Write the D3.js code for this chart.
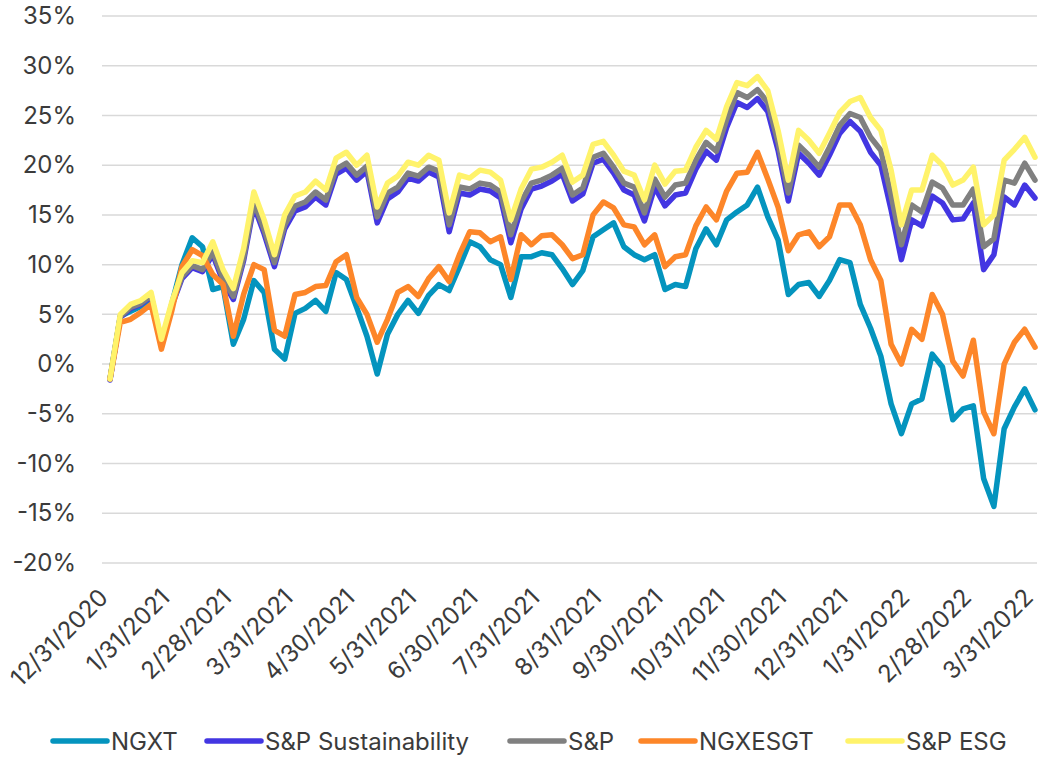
<!DOCTYPE html>
<html>
<head>
<meta charset="utf-8">
<script src="https://cdn.jsdelivr.net/npm/d3@7"></script>
<style>
  html, body { margin: 0; padding: 0; background: #fff; }
  svg { display: block; font-family: Inter, "Noto Sans", sans-serif; }
</style>
</head>
<body>
<svg id="chart"></svg>
<script>
// Month-end labels on the x axis
const dateLabels = ["12/31/2020", "1/31/2021", "2/28/2021", "3/31/2021", "4/30/2021", "5/31/2021",
  "6/30/2021", "7/31/2021", "8/31/2021", "9/30/2021", "10/31/2021", "11/30/2021",
  "12/31/2021", "1/31/2022", "2/28/2022", "3/31/2022"];

const yTicks = [-20, -15, -10, -5, 0, 5, 10, 15, 20, 25, 30, 35];

// Cumulative return (%), evenly spaced samples
const ngxt = [-1.5, 4.8, 5.3, 5.8, 6.4, 2.0, 6.0, 10.0, 12.7, 11.8,
  7.5, 7.8, 2.0, 4.5, 8.4, 7.2, 1.5, 0.5, 5.1, 5.6,
  6.4, 5.3, 9.2, 8.5, 5.7, 2.8, -1.0, 3.0, 5.0, 6.4,
  5.1, 6.9, 8.0, 7.4, 9.8, 12.3, 11.8, 10.5, 10.0, 6.7,
  10.8, 10.8, 11.2, 11.0, 9.6, 8.0, 9.4, 12.8, 13.5, 14.2,
  11.8, 11.0, 10.5, 11.0, 7.5, 8.0, 7.8, 11.6, 13.6, 12.0,
  14.5, 15.3, 16.0, 17.8, 14.8, 12.5, 7.0, 8.0, 8.2, 6.8,
  8.4, 10.5, 10.2, 6.0, 3.6, 0.8, -4.0, -7.0, -4.0, -3.5,
  1.0, -0.3, -5.6, -4.5, -4.2, -11.5, -14.3, -6.5, -4.3, -2.5,
  -4.6];

const spSustainability = [-1.6, 4.7, 5.6, 6.0, 6.8, 2.1, 5.8, 8.6, 9.7, 9.3,
  11.0, 8.3, 6.5, 10.4, 15.9, 13.1, 9.8, 13.6, 15.4, 15.8,
  16.8, 16.0, 19.1, 19.7, 18.5, 19.4, 14.2, 16.6, 17.3, 18.7,
  18.4, 19.3, 18.8, 13.3, 17.2, 17.0, 17.6, 17.4, 16.7, 12.2,
  15.6, 17.6, 17.9, 18.4, 19.1, 16.4, 17.1, 20.2, 20.6, 19.2,
  17.5, 17.0, 14.4, 17.8, 15.9, 17.0, 17.2, 19.6, 21.4, 20.5,
  23.8, 26.3, 25.8, 26.7, 25.4, 21.5, 16.4, 21.2, 20.2, 19.0,
  21.0, 23.2, 24.4, 23.4, 21.3, 20.0, 15.5, 10.5, 14.5, 13.9,
  16.9, 16.2, 14.5, 14.6, 16.2, 9.5, 11.0, 16.8, 16.0, 18.0,
  16.7];

const sp = [-1.5, 4.8, 5.7, 6.1, 6.9, 2.2, 5.9, 8.8, 9.9, 9.5,
  11.3, 8.6, 6.8, 10.7, 16.3, 13.5, 10.2, 14.0, 15.9, 16.3,
  17.3, 16.5, 19.6, 20.2, 19.0, 19.9, 14.8, 17.2, 17.8, 19.2,
  18.9, 19.8, 19.4, 14.0, 17.8, 17.6, 18.2, 18.0, 17.3, 13.0,
  16.3, 18.2, 18.5, 19.0, 19.7, 17.0, 17.7, 20.8, 21.2, 19.8,
  18.2, 17.8, 15.2, 18.6, 16.8, 18.0, 18.2, 20.5, 22.3, 21.4,
  24.6, 27.3, 26.8, 27.6, 26.3, 22.3, 17.2, 22.0, 21.0, 19.8,
  21.8, 24.0, 25.2, 24.8, 22.8, 21.5, 17.0, 12.0, 16.0, 15.3,
  18.3, 17.7, 16.0, 16.0, 17.6, 11.8, 12.6, 18.5, 18.2, 20.2,
  18.5];

const ngxesgt = [-1.5, 4.2, 4.5, 5.2, 6.0, 1.5, 5.3, 9.8, 11.5, 10.9,
  9.0, 8.0, 2.8, 7.0, 10.0, 9.5, 3.4, 2.8, 7.0, 7.2,
  7.8, 7.9, 10.3, 11.0, 6.7, 5.0, 2.2, 4.5, 7.2, 7.8,
  6.8, 8.6, 9.8, 8.3, 11.0, 13.3, 13.2, 12.3, 12.8, 8.5,
  13.0, 12.0, 12.9, 13.0, 12.0, 10.6, 11.0, 15.0, 16.3, 15.7,
  14.0, 13.8, 12.0, 13.0, 9.8, 10.8, 11.0, 13.9, 15.8, 14.5,
  17.4, 19.2, 19.3, 21.3, 18.6, 15.8, 11.4, 13.0, 13.3, 11.8,
  12.8, 16.0, 16.0, 14.0, 10.5, 8.4, 2.0, 0.0, 3.5, 2.5,
  7.0, 5.0, 0.3, -1.2, 2.4, -4.8, -7.0, 0.0, 2.2, 3.5,
  1.7];

const spEsg = [-1.5, 5.0, 6.0, 6.4, 7.2, 2.5, 6.2, 9.2, 10.4, 10.2,
  12.3, 9.5, 7.6, 11.6, 17.3, 14.5, 11.0, 15.0, 16.9, 17.3,
  18.4, 17.5, 20.7, 21.3, 20.0, 21.0, 15.8, 18.2, 18.9, 20.3,
  20.0, 21.0, 20.5, 15.2, 19.0, 18.7, 19.5, 19.3, 18.5, 14.5,
  17.6, 19.6, 19.8, 20.3, 21.0, 18.3, 19.0, 22.1, 22.4, 21.0,
  19.4, 19.0, 16.5, 20.0, 18.1, 19.4, 19.5, 21.8, 23.5, 22.6,
  25.9, 28.3, 28.0, 28.9, 27.5, 23.5, 18.5, 23.5, 22.5, 21.2,
  23.2, 25.3, 26.4, 26.8, 24.8, 23.5, 19.5, 14.0, 17.5, 17.5,
  21.0, 20.0, 18.0, 18.5, 19.8, 14.0, 15.0, 20.5, 21.6, 22.8,
  20.8];

const seriesNames = ["NGXT", "S&P Sustainability", "S&P", "NGXESGT", "S&P ESG"];
const seriesColors = ["#0494be", "#4336e2", "#808080", "#fd8629", "#fff36b"];

const width = 1043;
const height = 759;
const plot = { left: 110, right: 1035, top: 16, bottom: 563 };
const fontSize = "24px";
const textColor = "#3b3b3b";

const svg = d3.select("#chart").attr("width", width).attr("height", height);

const x = d3.scaleLinear()
  .domain([0, ngxt.length - 1])
  .range([plot.left, plot.right]);

const y = d3.scaleLinear()
  .domain([-20, 35])
  .range([plot.bottom, plot.top]);

// gridlines
svg.append("g")
  .selectAll("line")
  .data(yTicks)
  .join("line")
  .attr("x1", 102)
  .attr("x2", 1037)
  .attr("y1", d => y(d))
  .attr("y2", d => y(d))
  .attr("stroke", "#d9d9d9")
  .attr("stroke-width", 1.5);

// y axis labels
const yAxis = svg.append("g")
  .attr("transform", "translate(76,0)")
  .call(d3.axisLeft(y).tickValues(yTicks).tickFormat(d => d + "%").tickSize(0).tickPadding(0));
yAxis.select(".domain").remove();
yAxis.selectAll("text")
  .attr("font-size", fontSize)
  .attr("font-family", "Inter, sans-serif")
  .attr("fill", textColor);

// x axis labels, rotated
const step = (ngxt.length - 1) / (dateLabels.length - 1);
const xAxis = svg.append("g")
  .attr("transform", `translate(0,${plot.bottom})`)
  .call(d3.axisBottom(x)
    .tickValues(dateLabels.map((d, i) => i * step))
    .tickFormat((d, i) => dateLabels[i])
    .tickSize(0));
xAxis.select(".domain").remove();
xAxis.selectAll("text")
  .attr("x", 0)
  .attr("y", 0)
  .attr("dy", 0)
  .attr("transform", "translate(-1,36) rotate(-45)")
  .style("text-anchor", "end")
  .attr("font-size", fontSize)
  .attr("font-family", "Inter, sans-serif")
  .attr("fill", textColor);

// lines, drawn in legend order
const allSeries = [ngxt, spSustainability, sp, ngxesgt, spEsg];
const line = d3.line()
  .x((d, i) => x(i))
  .y(d => y(d));

svg.append("g")
  .selectAll("path")
  .data(allSeries)
  .join("path")
  .attr("d", line)
  .attr("fill", "none")
  .attr("stroke", (d, i) => seriesColors[i])
  .attr("stroke-width", 5.5)
  .attr("stroke-linejoin", "round")
  .attr("stroke-linecap", "round");

// legend, one slot per series
const legendX = [53, 207, 510, 641, 848];
const items = svg.append("g")
  .selectAll("g")
  .data(seriesNames)
  .join("g")
  .attr("transform", (d, i) => `translate(${legendX[i]},741)`);

items.append("line")
  .attr("x1", 0)
  .attr("x2", 54)
  .attr("y1", 0)
  .attr("y2", 0)
  .attr("stroke", (d, i) => seriesColors[i])
  .attr("stroke-width", 5.5)
  .attr("stroke-linecap", "round");

items.append("text")
  .attr("x", 58)
  .attr("y", 0)
  .attr("dy", "0.36em")
  .attr("font-size", fontSize)
  .attr("font-family", "Inter, sans-serif")
  .attr("fill", textColor)
  .text(d => d);
</script>
</body>
</html>
